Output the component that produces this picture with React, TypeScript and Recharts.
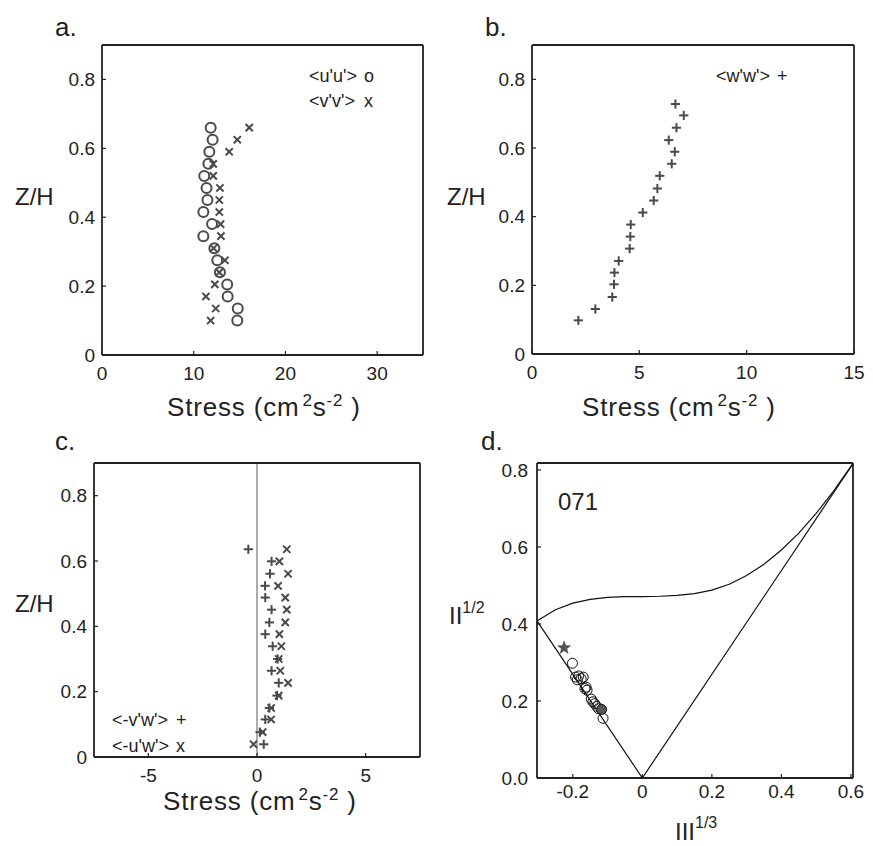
import React from "react";
import { ComposedChart, Scatter, XAxis, YAxis, ReferenceLine } from "recharts";

const FONT = "'Liberation Sans', Arial, Helvetica, sans-serif";
const INK = "#222";
const MARK = "#4a4a4a";

// a. normal stresses, levels listed bottom to top
const zA = [0.1, 0.135, 0.17, 0.205, 0.24, 0.275, 0.31, 0.345, 0.38, 0.415, 0.45, 0.485, 0.52, 0.555, 0.59, 0.625, 0.66];
const uuA = [14.75, 14.8, 13.7, 13.65, 12.86, 12.57, 12.25, 11.05, 12.0, 11.05, 11.5, 11.4, 11.15, 11.6, 11.7, 12.06, 11.85];
const vvA = [11.85, 12.4, 11.33, 12.3, 12.79, 13.4, 12.17, 12.97, 12.93, 12.79, 12.79, 12.86, 12.13, 12.13, 13.87, 14.75, 16.05];

// b. vertical normal stress
const zB = [0.098, 0.131, 0.166, 0.203, 0.237, 0.271, 0.307, 0.342, 0.377, 0.412, 0.447, 0.482, 0.519, 0.554, 0.589, 0.623, 0.659, 0.695, 0.728];
const wwB = [2.16, 2.95, 3.74, 3.82, 3.84, 4.04, 4.55, 4.58, 4.6, 5.16, 5.67, 5.84, 5.95, 6.51, 6.65, 6.37, 6.73, 7.07, 6.68];

// c. shear stresses
const zC = [0.039, 0.076, 0.115, 0.15, 0.188, 0.227, 0.264, 0.3, 0.339, 0.376, 0.412, 0.451, 0.488, 0.524, 0.561, 0.599, 0.636];
const vwC = [0.31, 0.14, 0.38, 0.57, 0.92, 1.0, 0.67, 0.95, 0.72, 0.38, 0.57, 0.67, 0.38, 0.37, 0.6, 0.67, -0.4];
const uwC = [-0.16, 0.26, 0.65, 0.65, 1.0, 1.43, 1.07, 1.0, 1.12, 1.03, 1.3, 1.37, 1.3, 0.97, 1.43, 1.03, 1.37];

// d. anisotropy invariant map
const xiD = [-0.201, -0.192, -0.183, -0.176, -0.17, -0.187, -0.165, -0.159, -0.162, -0.147, -0.142, -0.137, -0.131, -0.126, -0.113];
const etaD = [0.298, 0.262, 0.265, 0.258, 0.262, 0.255, 0.232, 0.228, 0.236, 0.205, 0.198, 0.193, 0.186, 0.18, 0.155];
const meanXi = [-0.117];
const meanEta = [0.178];
const topXi = [-0.225];
const topEta = [0.338];
const axiXi = [-0.303, 0, 0.606];
const axiEta = [0.408, 0, 0.816];
const twoCXi = [-0.303, -0.25, -0.2, -0.15, -0.1, -0.05, 0, 0.05, 0.1, 0.15, 0.2, 0.25, 0.3, 0.35, 0.4, 0.45, 0.5, 0.55, 0.606];
const twoCEta = [0.408, 0.437, 0.454, 0.464, 0.469, 0.471, 0.471, 0.472, 0.474, 0.479, 0.488, 0.503, 0.526, 0.555, 0.592, 0.636, 0.687, 0.745, 0.817];

const pts = (xs: number[], ys: number[]) => xs.map((x, i) => ({ x, y: ys[i] }));

const Ring = (p: any) => (
  <circle cx={p.cx} cy={p.cy} r={5} fill="none" stroke={MARK} strokeWidth={2} />
);
const Cross = (p: any) => {
  const s = 3.6;
  return (
    <g stroke={MARK} strokeWidth={2}>
      <line x1={p.cx - s} y1={p.cy - s} x2={p.cx + s} y2={p.cy + s} />
      <line x1={p.cx - s} y1={p.cy + s} x2={p.cx + s} y2={p.cy - s} />
    </g>
  );
};
const Plus = (p: any) => {
  const s = 4.6;
  return (
    <g stroke={MARK} strokeWidth={2}>
      <line x1={p.cx - s} y1={p.cy} x2={p.cx + s} y2={p.cy} />
      <line x1={p.cx} y1={p.cy - s} x2={p.cx} y2={p.cy + s} />
    </g>
  );
};
const ThinRing = (p: any) => (
  <circle cx={p.cx} cy={p.cy} r={5} fill="none" stroke="#111" strokeWidth={1} />
);
const Dot = (p: any) => (
  <circle cx={p.cx} cy={p.cy} r={5} fill="#555" stroke="#111" strokeWidth={1} />
);
const Star = (p: any) => {
  const R = 7.5, r = 3.2;
  const d = Array.from({ length: 10 }, (_, i) => {
    const a = -Math.PI / 2 + (i * Math.PI) / 5;
    const rad = i % 2 ? r : R;
    return `${p.cx + rad * Math.cos(a)},${p.cy + rad * Math.sin(a)}`;
  }).join(" ");
  return <polygon points={d} fill="#555" />;
};
const Nothing = () => <g />;

type Box = { l: number; t: number; r: number; b: number };
const PAD = { l: 70, t: 10, r: 12, b: 50 };

const zFmt = (v: number) => (v === 0 ? "0" : v.toFixed(1));

function Frame(props: {
  box: Box;
  xDomain: [number, number];
  yDomain: [number, number];
  xTicks: number[];
  yTicks: number[];
  xFmt?: (v: number) => string;
  yFmt?: (v: number) => string;
  xGap: number;
  yGap: number;
  children: React.ReactNode;
}) {
  const { box } = props;
  const w = box.r - box.l + PAD.l + PAD.r;
  const h = box.b - box.t + PAD.t + PAD.b;
  const tick = { fontSize: 19, fill: INK, fontFamily: FONT };
  const axisLine = { stroke: INK, strokeWidth: 1.8 };
  const tickLine = { stroke: INK, strokeWidth: 1.2 };
  return (
    <div style={{ position: "absolute", left: box.l - PAD.l, top: box.t - PAD.t }}>
      <ComposedChart
        width={w}
        height={h}
        margin={{ top: PAD.t - 2, right: PAD.r - 2, bottom: PAD.b - 40, left: PAD.l - 60 }}
      >
        <XAxis
          xAxisId="b"
          type="number"
          dataKey="x"
          domain={props.xDomain}
          allowDataOverflow
          ticks={props.xTicks}
          interval={0}
          height={40}
          tickSize={-4}
          tickMargin={props.xGap + 4}
          axisLine={axisLine}
          tickLine={tickLine}
          tick={tick}
          tickFormatter={props.xFmt}
        />
        <XAxis
          xAxisId="t"
          orientation="top"
          type="number"
          dataKey="x"
          domain={props.xDomain}
          allowDataOverflow
          ticks={props.xTicks}
          interval={0}
          height={2}
          tickSize={-4}
          axisLine={axisLine}
          tickLine={tickLine}
          tick={false}
        />
        <YAxis
          yAxisId="l"
          type="number"
          dataKey="y"
          domain={props.yDomain}
          allowDataOverflow
          ticks={props.yTicks}
          interval={0}
          width={60}
          tickSize={-4}
          tickMargin={props.yGap + 4}
          axisLine={axisLine}
          tickLine={tickLine}
          tick={tick}
          tickFormatter={props.yFmt}
        />
        <YAxis
          yAxisId="r"
          orientation="right"
          type="number"
          dataKey="y"
          domain={props.yDomain}
          allowDataOverflow
          ticks={props.yTicks}
          interval={0}
          width={2}
          tickSize={-4}
          axisLine={axisLine}
          tickLine={tickLine}
          tick={false}
        />
        {props.children}
      </ComposedChart>
    </div>
  );
}

const T = (p: { x: number; y: number; size?: number; children: React.ReactNode; len?: number }) => (
  <text
    x={p.x}
    y={p.y}
    fontSize={p.size ?? 24}
    fill={INK}
    fontFamily={FONT}
    textLength={p.len}
    lengthAdjust={p.len ? "spacing" : undefined}
  >
    {p.children}
  </text>
);

const StressTitle = ({ x, y }: { x: number; y: number }) => (
  <T x={x} y={y} size={26} len={193}>
    Stress (cm<tspan dy={-10} dx={3} fontSize={17}>2</tspan>
    <tspan dy={10}>s</tspan>
    <tspan dy={-10} fontSize={17}>-2</tspan>
    <tspan dy={10}> )</tspan>
  </T>
);

export default function App() {
  const sc = { xAxisId: "b", yAxisId: "l", isAnimationActive: false };
  return (
    <div style={{ position: "absolute", left: 0, top: 0, width: 873, height: 846, background: "#fff" }}>
      <Frame
        box={{ l: 102, t: 45, r: 423, b: 355 }}
        xDomain={[0, 35]}
        yDomain={[0, 0.9]}
        xTicks={[0, 10, 20, 30]}
        yTicks={[0, 0.2, 0.4, 0.6, 0.8]}
        yFmt={zFmt}
        xGap={12}
        yGap={7}
      >
        <Scatter {...sc} data={pts(uuA, zA)} shape={Ring} />
        <Scatter {...sc} data={pts(vvA, zA)} shape={Cross} />
      </Frame>

      <Frame
        box={{ l: 532, t: 45, r: 854, b: 354 }}
        xDomain={[0, 15]}
        yDomain={[0, 0.9]}
        xTicks={[0, 5, 10, 15]}
        yTicks={[0, 0.2, 0.4, 0.6, 0.8]}
        yFmt={zFmt}
        xGap={12}
        yGap={7}
      >
        <Scatter {...sc} data={pts(wwB, zB)} shape={Plus} />
      </Frame>

      <Frame
        box={{ l: 94, t: 463, r: 420, b: 757 }}
        xDomain={[-7.5, 7.5]}
        yDomain={[0, 0.9]}
        xTicks={[-5, 0, 5]}
        yTicks={[0, 0.2, 0.4, 0.6, 0.8]}
        yFmt={zFmt}
        xGap={12}
        yGap={7}
      >
        <ReferenceLine xAxisId="b" yAxisId="l" x={0} stroke="#8a8a8a" strokeWidth={1.4} />
        <Scatter {...sc} data={pts(vwC, zC)} shape={Plus} />
        <Scatter {...sc} data={pts(uwC, zC)} shape={Cross} />
      </Frame>

      <Frame
        box={{ l: 537, t: 463, r: 853, b: 778 }}
        xDomain={[-0.303, 0.606]}
        yDomain={[0, 0.818]}
        xTicks={[-0.2, 0, 0.2, 0.4, 0.6]}
        yTicks={[0, 0.2, 0.4, 0.6, 0.8]}
        xFmt={(v: number) => (v === 0 ? "0" : v.toFixed(1))}
        yFmt={(v: number) => v.toFixed(1)}
        xGap={7}
        yGap={9}
      >
        <Scatter {...sc} data={pts(axiXi, axiEta)} shape={Nothing} line={{ stroke: "#111", strokeWidth: 1.2 }} />
        <Scatter {...sc} data={pts(twoCXi, twoCEta)} shape={Nothing} line={{ stroke: "#111", strokeWidth: 1.2 }} />
        <Scatter {...sc} data={pts(xiD, etaD)} shape={ThinRing} />
        <Scatter {...sc} data={pts(meanXi, meanEta)} shape={Dot} />
        <Scatter {...sc} data={pts(topXi, topEta)} shape={Star} />
      </Frame>

      <svg width={873} height={846} style={{ position: "absolute", left: 0, top: 0, pointerEvents: "none" }}>
        <T x={55} y={36} size={26}>a.</T>
        <T x={485} y={36} size={26}>b.</T>
        <T x={55} y={450} size={26}>c.</T>
        <T x={481} y={450} size={26}>d.</T>

        <T x={15} y={205}>Z/H</T>
        <T x={447} y={205}>Z/H</T>
        <T x={15} y={612}>Z/H</T>
        <T x={449} y={624}>
          II<tspan dy={-11} fontSize={16}>1/2</tspan>
        </T>

        <StressTitle x={167} y={416} />
        <StressTitle x={582} y={416} />
        <StressTitle x={163} y={810} />
        <T x={675} y={840}>
          III<tspan dy={-12} fontSize={16}>1/3</tspan>
        </T>

        <T x={309} y={82} size={18}>{"<u'u'>"}</T>
        <T x={364} y={82} size={18}>o</T>
        <T x={309} y={107} size={18}>{"<v'v'>"}</T>
        <T x={364} y={107} size={18}>x</T>
        <T x={716} y={82} size={18}>{"<w'w'>"}</T>
        <T x={777} y={82} size={18}>+</T>
        <T x={112} y={726} size={18}>{"<-v'w'>"}</T>
        <T x={176} y={726} size={18}>+</T>
        <T x={112} y={752} size={18}>{"<-u'w'>"}</T>
        <T x={176} y={752} size={18}>x</T>

        <T x={558} y={510}>071</T>
      </svg>
    </div>
  );
}
